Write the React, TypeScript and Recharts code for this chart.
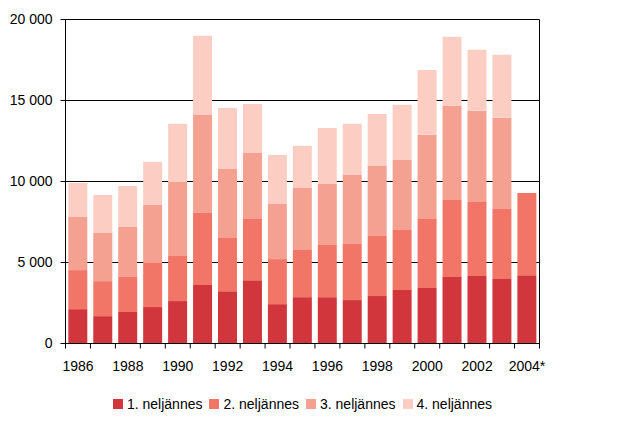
import React from 'react';
import { BarChart, Bar, XAxis, YAxis, CartesianGrid, Legend } from 'recharts';

const years = ['1986', '1987', '1988', '1989', '1990', '1991', '1992', '1993', '1994', '1995', '1996', '1997', '1998', '1999', '2000', '2001', '2002', '2003', '2004*'];
const q1 = [2120, 1690, 1940, 2250, 2620, 3610, 3230, 3910, 2430, 2860, 2860, 2680, 2930, 3300, 3420, 4100, 4160, 3980, 4220];
const q2 = [2410, 2160, 2160, 2720, 2780, 4450, 3280, 3770, 2780, 2910, 3220, 3460, 3700, 3700, 4260, 4760, 4570, 4320, 5070];
const q3 = [3280, 2970, 3090, 3580, 4570, 6050, 4260, 4080, 3400, 3830, 3770, 4260, 4330, 4330, 5200, 5810, 5630, 5630, null];
const q4 = [2100, 2350, 2530, 2660, 3590, 4880, 3770, 3030, 3030, 2600, 3460, 3160, 3210, 3400, 4010, 4260, 3770, 3890, null];
const seriesNames = ['1. neljännes', '2. neljännes', '3. neljännes', '4. neljännes'];
const yTicks = [0, 5000, 10000, 15000, 20000];

const colors = ['#D0363B', '#F27667', '#F5A191', '#FCCEC3'];
const FONT = '"Liberation Sans", Arial, sans-serif';
const X_TICK_SIZE = 5;
const X_TICK_MARGIN = 12.5;
const X_MARK_LEN = 5;

const data = years.map((y, i) => ({ year: y, q1: q1[i], q2: q2[i], q3: q3[i], q4: q4[i] }));

const fmt = (v: number) => String(v).replace(/\B(?=(\d{3})+(?!\d))/g, ' ');

const XTick = (props: any) => {
  const { x, y, payload, index, width, visibleTicksCount } = props;
  const half = payload && typeof payload.offset === 'number' && payload.offset > 0
    ? payload.offset
    : width / (visibleTicksCount || years.length) / 2;
  const axisY = y - X_TICK_SIZE - X_TICK_MARGIN;
  const isLast = index === years.length - 1;
  return (
    <g>
      <line x1={x - half} x2={x - half} y1={axisY} y2={axisY + X_MARK_LEN} stroke="#000" />
      {isLast && <line x1={x + half} x2={x + half} y1={axisY} y2={axisY + X_MARK_LEN} stroke="#000" />}
      {index % 2 === 0 && (
        <text x={x} y={y} dy="0.71em" textAnchor="middle" fontSize={14} fill="#000" fontFamily={FONT}>
          {payload.value}
        </text>
      )}
    </g>
  );
};

const renderLegend = (props: any) => {
  const payload = props.payload || [];
  return (
    <div style={{ display: 'flex', justifyContent: 'center', fontFamily: FONT, fontSize: 14, lineHeight: '16px', color: '#000' }}>
      {payload.map((e: any, i: number) => (
        <div key={i} style={{ display: 'flex', alignItems: 'center', marginRight: i < payload.length - 1 ? 7 : 0 }}>
          <span style={{ display: 'inline-block', width: 10, height: 10, background: e.color, marginRight: 4 }} />
          <span style={{ whiteSpace: 'nowrap' }}>{e.value}</span>
        </div>
      ))}
    </div>
  );
};

export default function App() {
  const tickStyle = { fontSize: 14, fill: '#000', fontFamily: FONT };
  return (
    <div style={{ position: 'absolute', left: 0, top: 0, width: 636, height: 423, background: '#fff' }}>
      <BarChart
        width={636}
        height={423}
        data={data}
        margin={{ top: 19.5, right: 95.5, left: 0, bottom: 49.5 }}
        barCategoryGap="11.3%"
        style={{ fontFamily: FONT }}
      >
        <CartesianGrid horizontal vertical={false} stroke="#000" />
        <XAxis
          dataKey="year"
          type="category"
          height={30}
          interval={0}
          stroke="#000"
          axisLine
          tickLine={false}
          tickSize={X_TICK_SIZE}
          tickMargin={X_TICK_MARGIN}
          tick={<XTick />}
        />
        <YAxis
          width={65.5}
          domain={[0, 20000]}
          ticks={yTicks}
          tickFormatter={fmt}
          stroke="#000"
          axisLine
          tickLine
          tickSize={5}
          tickMargin={8}
          tick={tickStyle}
          interval={0}
        />
        <YAxis
          yAxisId="right"
          orientation="right"
          width={1}
          domain={[0, 20000]}
          allowDataOverflow
          tick={false}
          tickLine={false}
          stroke="#000"
          axisLine
        />
        <Bar dataKey="q1" name={seriesNames[0]} stackId="a" fill={colors[0]} isAnimationActive={false} />
        <Bar dataKey="q2" name={seriesNames[1]} stackId="a" fill={colors[1]} isAnimationActive={false} />
        <Bar dataKey="q3" name={seriesNames[2]} stackId="a" fill={colors[2]} isAnimationActive={false} />
        <Bar dataKey="q4" name={seriesNames[3]} stackId="a" fill={colors[3]} isAnimationActive={false} />
        <Legend
          layout="horizontal"
          verticalAlign="middle"
          align="center"
          content={renderLegend}
          wrapperStyle={{ top: 396, left: 65.5, width: 474, height: 16 }}
        />
      </BarChart>
    </div>
  );
}
